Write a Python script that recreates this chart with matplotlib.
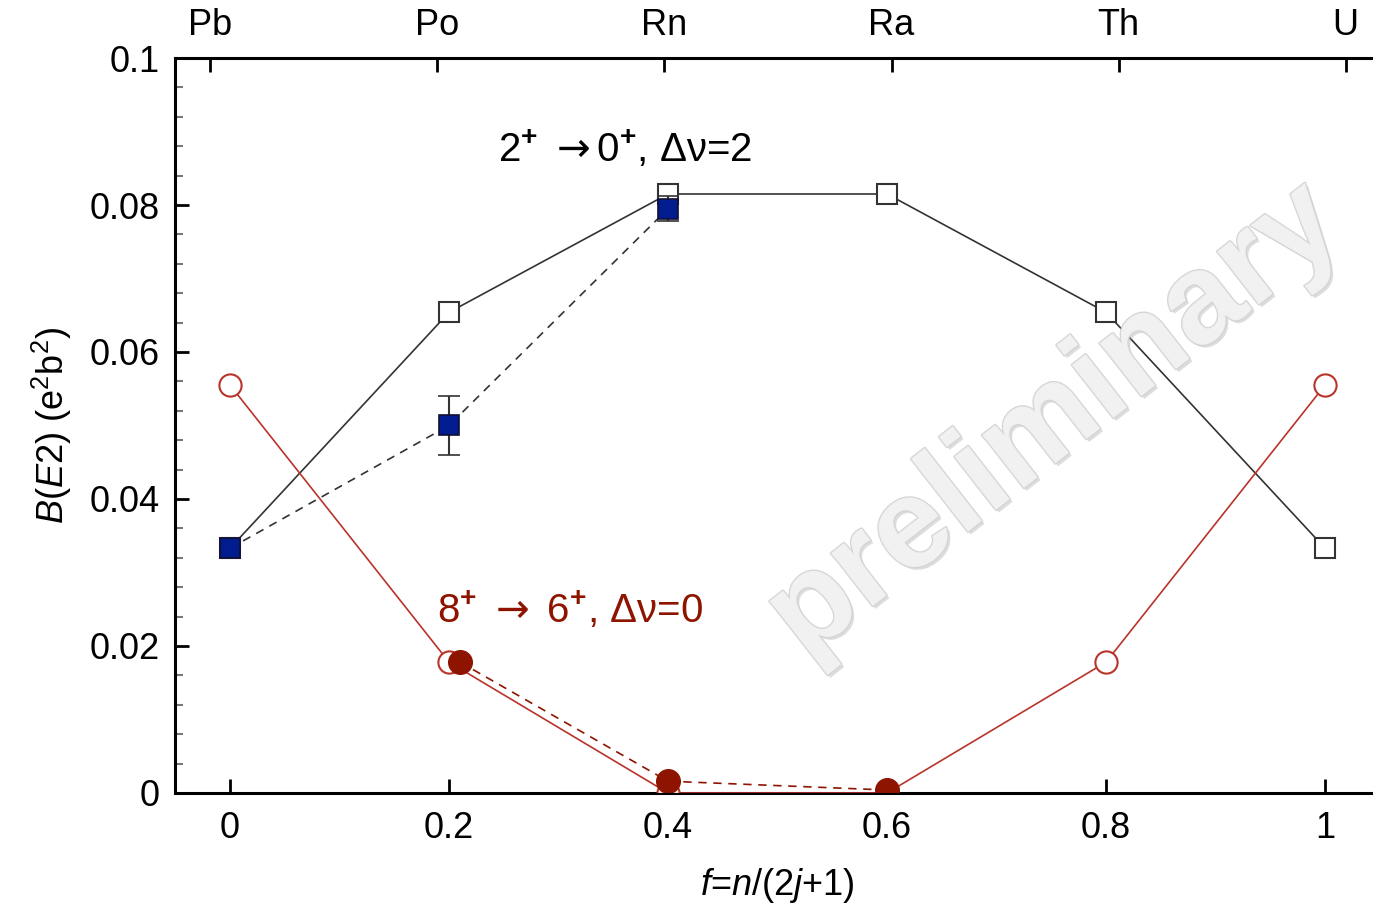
import numpy as np
import matplotlib
matplotlib.use("Agg")
import matplotlib.pyplot as plt
import matplotlib.patheffects as pe
from matplotlib.ticker import MultipleLocator

plt.rcParams['font.family'] = ['Liberation Sans', 'DejaVu Sans']
plt.rcParams['mathtext.fontset'] = 'custom'
plt.rcParams['mathtext.rm'] = 'Liberation Sans'
plt.rcParams['mathtext.it'] = 'Liberation Sans:italic'
plt.rcParams['mathtext.bf'] = 'Liberation Sans:bold'
plt.rcParams['mathtext.sf'] = 'DejaVu Sans'

# dados
f_vals = [0.0, 0.2, 0.4, 0.6, 0.8, 1.0]
be2_20_calc = [0.0333, 0.0654, 0.0815, 0.0815, 0.0654, 0.0333]
be2_86_calc = [0.0555, 0.0178, 0.0, 0.0, 0.0178, 0.0555]

f_20_exp = [0.0, 0.2, 0.4]
be2_20_exp = [0.0333, 0.0500, 0.0795]
err_20_exp = [0.0, 0.0040, 0.0017]

f_86_exp = [0.21, 0.4, 0.6]
be2_86_exp = [0.0178, 0.0016, 0.0004]

elementos = ['Pb', 'Po', 'Rn', 'Ra', 'Th', 'U']
z_elementos = [82, 84, 86, 88, 90, 92]

azul = '#001c8e'
vermelho = '#8e1400'
vermelho_linha = '#b8342a'

fig = plt.figure(figsize=(13.73, 9.08), dpi=100)
ax = fig.add_axes([0.1275, 0.1267, 0.8725, 0.8094])

# curvas calculadas
ax.plot(f_vals, be2_20_calc, '-', color='#333333', lw=1.2, marker='s', ms=15,
        mfc='white', mec='#333333', mew=1.5, zorder=3)
ax.plot(f_vals, be2_86_calc, '-', color=vermelho_linha, lw=1.2, marker='o', ms=16,
        mfc='white', mec=vermelho_linha, mew=1.5, zorder=3)

# experimentais
ax.plot(f_20_exp, be2_20_exp, '--', color='#333333', lw=1.2, dashes=(5, 4), zorder=4)
ax.errorbar(f_20_exp, be2_20_exp, yerr=err_20_exp, fmt='s', ms=15, mfc=azul,
            mec='#111133', mew=1.2, ecolor='#333333', elinewidth=1.5,
            capsize=8, capthick=1.5, zorder=5)
ax.plot(f_86_exp, be2_86_exp, '--', color=vermelho, lw=1.2, dashes=(5, 4), zorder=4)
ax.plot(f_86_exp, be2_86_exp, 'o', ms=17, mfc=vermelho, mec=vermelho, zorder=5)

ax.set_xlim(-0.0502, 1.0438)
ax.set_ylim(0, 0.1)

ax.set_xticks(f_vals)
ax.set_xticklabels(['0', '0.2', '0.4', '0.6', '0.8', '1'])
ax.set_yticks([0, 0.02, 0.04, 0.06, 0.08, 0.1])
ax.set_yticklabels(['0', '0.02', '0.04', '0.06', '0.08', '0.1'])
ax.yaxis.set_minor_locator(MultipleLocator(0.004))

for s in ['left', 'bottom', 'top']:
    ax.spines[s].set_linewidth(2.2)
ax.spines['right'].set_visible(False)

ax.tick_params(axis='x', which='major', direction='in', length=10, width=2,
               labelsize=26, pad=13, top=False)
ax.tick_params(axis='y', which='major', direction='in', length=10, width=2,
               labelsize=26, pad=11, right=False)
ax.tick_params(axis='y', which='minor', direction='in', length=6, width=1.5,
               color='#777777', right=False)

# eixo superior com elementos
ax2 = ax.twiny()
ax2.set_xlim(81.69, 92.24)
ax2.set_xticks(z_elementos)
ax2.set_xticklabels(elementos)
ax2.tick_params(axis='x', direction='in', length=10, width=2, labelsize=26, pad=11)
ax2.spines['right'].set_visible(False)

ax.set_xlabel(r'$\mathit{f}$=$\mathit{n}$/(2$\mathit{j}$+1)', fontsize=26)
ax.xaxis.set_label_coords(0.503, -0.100)
ax.set_ylabel(r'$\mathit{B}$($\mathit{E}$2) (e$^2$b$^2$)', fontsize=26)
ax.yaxis.set_label_coords(-0.084, 0.5)

ax.text(0.245, 0.0875, r'2$^{\mathbf{+}}$ $\mathsf{\rightarrow}$0$^{\mathbf{+}}$, Δν=2', fontsize=29,
        color='black', va='center', ha='left', zorder=6)
ax.text(0.189, 0.0249, r'8$^{\mathbf{+}}$ $\mathsf{\rightarrow}$ 6$^{\mathbf{+}}$, Δν=0', fontsize=29,
        color=vermelho, va='center', ha='left', zorder=6)

# marca d'agua
ax.text(0.7346, 0.505, 'preliminary', transform=ax.transAxes, fontsize=92,
        fontweight='bold', color='#f2f2f2', rotation=38.0, rotation_mode='anchor',
        ha='center', va='center', alpha=0.92, zorder=7,
        path_effects=[pe.SimplePatchShadow(offset=(2, -2), shadow_rgbFace='#aaaaaa', alpha=0.4),
                      pe.withStroke(linewidth=1.8, foreground='#d2d2d2')])

fig.savefig('out.png', dpi=100)
